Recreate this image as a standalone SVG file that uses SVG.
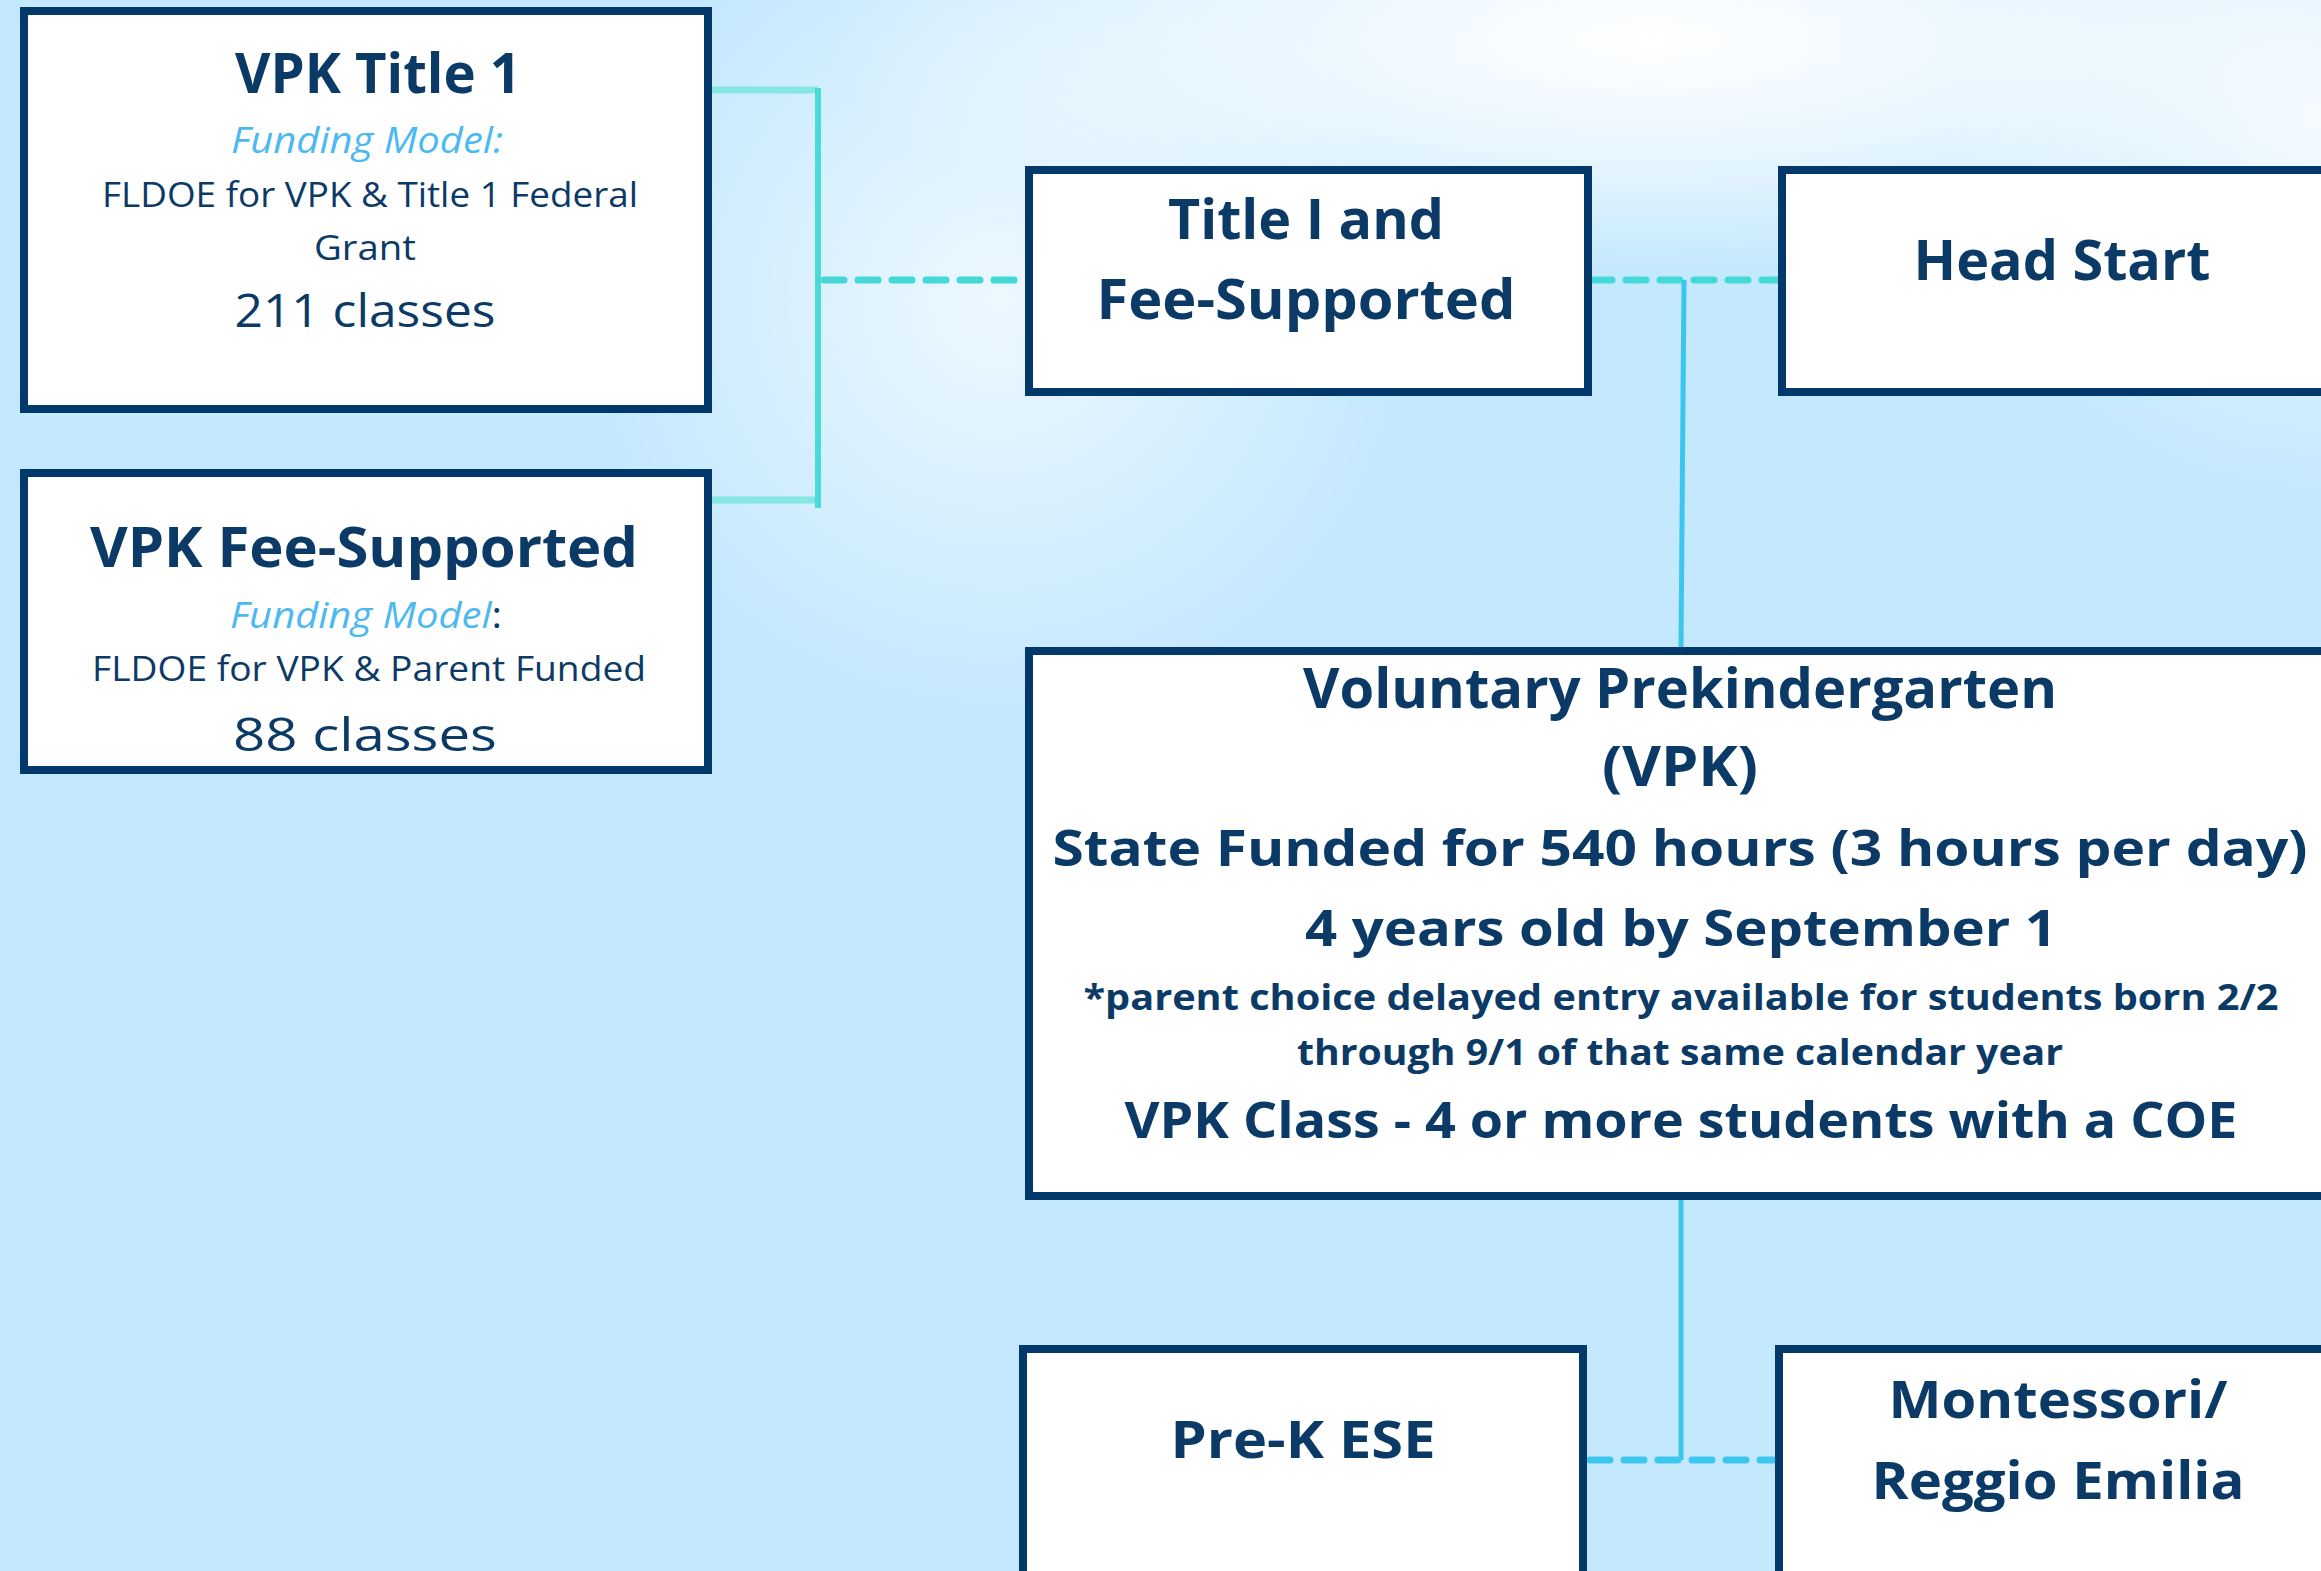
<svg xmlns="http://www.w3.org/2000/svg" width="2321" height="1571" viewBox="0 0 2321 1571">
<defs>
<radialGradient id="glow1" cx="1650" cy="40" r="520" gradientUnits="userSpaceOnUse" gradientTransform="translate(1650 40) scale(1.6 0.45) translate(-1650 -40)">
<stop offset="0" stop-color="#ffffff" stop-opacity="1"/>
<stop offset="0.5" stop-color="#ffffff" stop-opacity="0.6"/>
<stop offset="1" stop-color="#ffffff" stop-opacity="0"/>
</radialGradient>
<radialGradient id="glow2" cx="1000" cy="300" r="420" gradientUnits="userSpaceOnUse">
<stop offset="0" stop-color="#ffffff" stop-opacity="0.7"/>
<stop offset="1" stop-color="#ffffff" stop-opacity="0"/>
</radialGradient>
<radialGradient id="glow3" cx="2321" cy="120" r="380" gradientUnits="userSpaceOnUse">
<stop offset="0" stop-color="#ffffff" stop-opacity="0.8"/>
<stop offset="1" stop-color="#ffffff" stop-opacity="0"/>
</radialGradient>
<style>
.box{fill:#ffffff;stroke:#03386A;stroke-width:8}
.h{font-family:"Open Sans","Liberation Sans",sans-serif;font-weight:700;fill:#0B3A66;text-anchor:middle}
.r{font-family:"Open Sans","Liberation Sans",sans-serif;font-weight:400;fill:#0B3A66;text-anchor:middle}
.fm{font-style:italic;fill:#4DB9F2}
.dash{fill:none;stroke-width:7;stroke-linecap:round;stroke-dasharray:20 14}
</style>
</defs>
<rect width="2321" height="1571" fill="#C4E8FE"/>
<rect width="2321" height="1571" fill="url(#glow1)"/>
<rect width="2321" height="1571" fill="url(#glow2)"/>
<rect width="2321" height="1571" fill="url(#glow3)"/>

<g id="connectors">
<line x1="708" y1="90" x2="818" y2="90" stroke="#86E6E4" stroke-width="7"/>
<line x1="708" y1="500" x2="818" y2="500" stroke="#86E6E4" stroke-width="7"/>
<line x1="818" y1="88" x2="818" y2="508" stroke="#4CDAD6" stroke-width="6"/>
<line class="dash" x1="824" y1="280" x2="1024" y2="280" stroke="#45D8D8"/>
<line class="dash" x1="1592" y1="280" x2="1778" y2="280" stroke="#45D8D8"/>
<line x1="1684" y1="280" x2="1681" y2="647" stroke="#3CC6EE" stroke-width="5"/>
<line x1="1681" y1="1198" x2="1681" y2="1460" stroke="#3CC6EE" stroke-width="5"/>
<line class="dash" x1="1590" y1="1460" x2="1774" y2="1460" stroke="#3CC8EE"/>
</g>

<g id="vpk-title1">
<rect class="box" x="24" y="11" width="684" height="398"/>
<text class="h" x="378" y="93" font-size="55" textLength="286" lengthAdjust="spacingAndGlyphs">VPK Title 1</text>
<text class="r fm" x="367" y="153" font-size="36" textLength="272" lengthAdjust="spacingAndGlyphs">Funding Model:</text>
<text class="r" x="370" y="207" font-size="34" textLength="536" lengthAdjust="spacingAndGlyphs">FLDOE for VPK &amp; Title 1 Federal</text>
<text class="r" x="365" y="260" font-size="34" textLength="102" lengthAdjust="spacingAndGlyphs">Grant</text>
<text class="r" x="365" y="327" font-size="46" textLength="261" lengthAdjust="spacingAndGlyphs">211 classes</text>
</g>

<g id="vpk-fee">
<rect class="box" x="24" y="473" width="684" height="297"/>
<text class="h" x="364" y="567" font-size="55" textLength="548" lengthAdjust="spacingAndGlyphs">VPK Fee-Supported</text>
<text class="r" x="366" y="628" font-size="36" textLength="272" lengthAdjust="spacingAndGlyphs"><tspan class="fm">Funding Model</tspan>:</text>
<text class="r" x="369" y="681" font-size="34" textLength="554" lengthAdjust="spacingAndGlyphs">FLDOE for VPK &amp; Parent Funded</text>
<text class="r" x="365" y="751" font-size="46" textLength="264" lengthAdjust="spacingAndGlyphs">88 classes</text>
</g>

<g id="title1-fee">
<rect class="box" x="1029" y="170" width="559" height="222"/>
<text class="h" x="1306" y="239" font-size="55" textLength="276" lengthAdjust="spacingAndGlyphs">Title I and</text>
<text class="h" x="1306" y="319" font-size="55" textLength="419" lengthAdjust="spacingAndGlyphs">Fee-Supported</text>
</g>

<g id="head-start">
<rect class="box" x="1782" y="170" width="580" height="222"/>
<text class="h" x="2062" y="280" font-size="55" textLength="297" lengthAdjust="spacingAndGlyphs">Head Start</text>
</g>

<g id="vpk">
<rect class="box" x="1029" y="651" width="1333" height="545"/>
<text class="h" x="1680" y="708" font-size="55" textLength="754" lengthAdjust="spacingAndGlyphs">Voluntary Prekindergarten</text>
<text class="h" x="1680" y="786" font-size="55" textLength="156" lengthAdjust="spacingAndGlyphs">(VPK)</text>
<text class="h" x="1680" y="866" font-size="50" textLength="1255" lengthAdjust="spacingAndGlyphs">State Funded for 540 hours (3 hours per day)</text>
<text class="h" x="1681" y="946" font-size="51" textLength="752" lengthAdjust="spacingAndGlyphs">4 years old by September 1</text>
<text class="h" x="1681" y="1010" font-size="35" textLength="1195" lengthAdjust="spacingAndGlyphs">*parent choice delayed entry available for students born 2/2</text>
<text class="h" x="1680" y="1065" font-size="35" textLength="766" lengthAdjust="spacingAndGlyphs">through 9/1 of that same calendar year</text>
<text class="h" x="1681" y="1138" font-size="50" textLength="1113" lengthAdjust="spacingAndGlyphs">VPK Class - 4 or more students with a COE</text>
</g>

<g id="prek-ese">
<rect class="box" x="1023" y="1349" width="560" height="260"/>
<text class="h" x="1303" y="1458" font-size="52" textLength="265" lengthAdjust="spacingAndGlyphs">Pre-K ESE</text>
</g>

<g id="montessori">
<rect class="box" x="1779" y="1349" width="580" height="260"/>
<text class="h" x="2058" y="1418" font-size="52" textLength="339" lengthAdjust="spacingAndGlyphs">Montessori/</text>
<text class="h" x="2058" y="1499" font-size="52" textLength="373" lengthAdjust="spacingAndGlyphs">Reggio Emilia</text>
</g>
</svg>
